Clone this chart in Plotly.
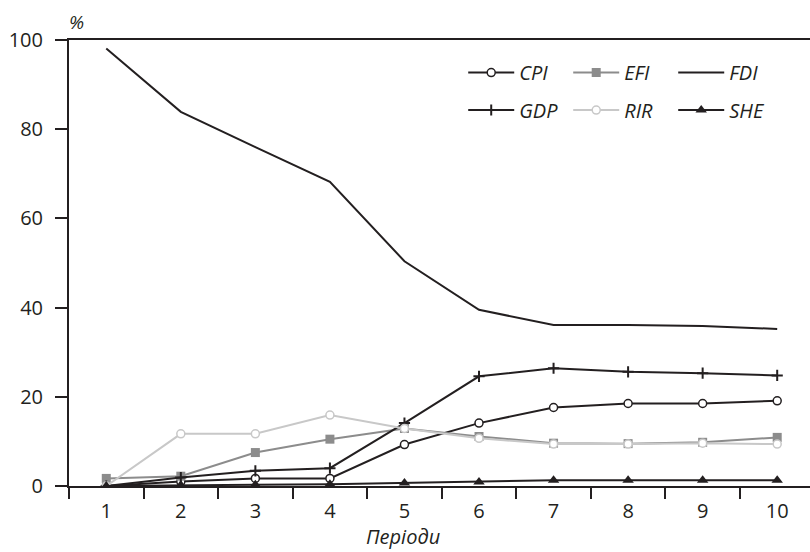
import plotly.graph_objects as go

periods = ["1", "2", "3", "4", "5", "6", "7", "8", "9", "10"]
CPI = [0.0, 1.0, 1.7, 1.7, 9.3, 14.1, 17.6, 18.5, 18.5, 19.1]
EFI = [1.7, 2.2, 7.5, 10.5, 12.9, 11.1, 9.6, 9.5, 9.8, 10.9]
FDI = [98.1, 83.9, 76.0, 68.2, 50.4, 39.5, 36.1, 36.1, 35.9, 35.2]
GDP = [0.0, 1.9, 3.4, 4.0, 14.1, 24.6, 26.4, 25.6, 25.3, 24.8]
RIR = [0.0, 11.7, 11.7, 15.9, 12.9, 10.7, 9.4, 9.4, 9.6, 9.4]
SHE = [0.0, 0.2, 0.3, 0.4, 0.7, 0.9, 1.3, 1.3, 1.3, 1.3]
y_ticks = [0, 20, 40, 60, 80, 100]

BLACK = "#231f20"
GREY = "#8c8c8c"
LIGHT = "#c8c8c8"
FONT = "Open Sans"

fig = go.Figure()
fig.add_trace(go.Scatter(x=periods, y=CPI, name="CPI", mode="lines+markers",
                         line=dict(color=BLACK, width=2),
                         marker=dict(symbol="circle", size=8, color="white",
                                     line=dict(color=BLACK, width=1.5)),
                         legend="legend"))
fig.add_trace(go.Scatter(x=periods, y=EFI, name="EFI", mode="lines+markers",
                         line=dict(color=GREY, width=2),
                         marker=dict(symbol="square", size=9, color=GREY),
                         legend="legend"))
fig.add_trace(go.Scatter(x=periods, y=FDI, name="FDI", mode="lines",
                         line=dict(color=BLACK, width=2),
                         legend="legend"))
fig.add_trace(go.Scatter(x=periods, y=GDP, name="GDP", mode="lines+markers",
                         line=dict(color=BLACK, width=2),
                         marker=dict(symbol="cross-thin", size=8,
                                     line=dict(color=BLACK, width=2)),
                         legend="legend2"))
fig.add_trace(go.Scatter(x=periods, y=RIR, name="RIR", mode="lines+markers",
                         line=dict(color=LIGHT, width=2),
                         marker=dict(symbol="circle", size=8, color="white",
                                     line=dict(color=LIGHT, width=1.5)),
                         legend="legend2"))
fig.add_trace(go.Scatter(x=periods, y=SHE, name="SHE", mode="lines+markers",
                         line=dict(color=BLACK, width=2),
                         marker=dict(symbol="triangle-up", size=10, color=BLACK),
                         legend="legend2"))

leg_common = dict(orientation="h", xanchor="left", yanchor="middle",
                  bgcolor="rgba(0,0,0,0)", itemwidth=46,
                  entrywidth=44, entrywidthmode="pixels",
                  font=dict(family=FONT, size=20, color=BLACK, style="italic"),
                  tracegroupgap=0, itemclick=False)

fig.update_layout(
    width=810, height=552,
    margin=dict(l=69, r=0, t=40, b=66),
    paper_bgcolor="white", plot_bgcolor="white",
    font=dict(family=FONT, size=20, color=BLACK),
    showlegend=True,
    legend=dict(x=0.532, y=0.927, **leg_common),
    legend2=dict(x=0.532, y=0.843, **leg_common),
    xaxis=dict(type="category", range=[-0.5, 9.44], tickson="boundaries",
               ticks="outside", ticklen=11, tickwidth=1.5, tickcolor=BLACK,
               showline=True, linecolor=BLACK, linewidth=2, mirror=True,
               showgrid=False, zeroline=False, ticklabelstandoff=6),
    yaxis=dict(range=[0, 100], tickvals=y_ticks, ticks="outside", ticklen=12,
               tickwidth=1.5, tickcolor=BLACK, showline=True, linecolor=BLACK,
               linewidth=2, showgrid=False, zeroline=False,
               ticklabelstandoff=8),
    annotations=[
        dict(text="%", xref="paper", yref="paper", x=(76 - 69) / 741, y=1.0,
             yshift=18, showarrow=False, xanchor="center", yanchor="middle",
             font=dict(family=FONT, size=19, color=BLACK, style="italic")),
        dict(text="Періоди", xref="paper", yref="paper", x=(403 - 69) / 741,
             y=0, yshift=-50, showarrow=False, xanchor="center",
             yanchor="middle", borderpad=0,
             font=dict(family=FONT, size=20, color=BLACK, style="italic")),
    ],
)

fig.write_html("out.html")
